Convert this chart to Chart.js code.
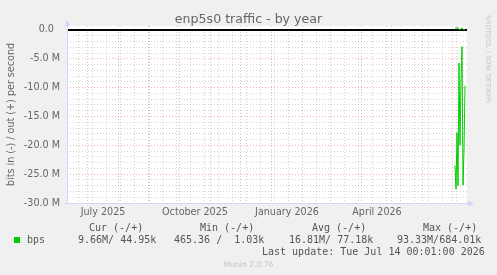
<!DOCTYPE html>
<html><head><meta charset="utf-8">
<style>html,body{margin:0;padding:0;background:#F0F0F0;overflow:hidden}canvas{display:block}</style>
<script src="https://cdn.jsdelivr.net/npm/chart.js@4/dist/chart.umd.min.js"></script>
</head><body>
<canvas id="c" width="497" height="275"></canvas>
<script>
const chartTitle = 'enp5s0 traffic - by year';
const yAxisTitle = 'bits in (-) / out (+) per second';
// x values are days counted from 2025-06-11 (left edge of the year graph)
const dataDays = [388, 389, 390, 391, 392, 393, 394, 395, 396, 397, 398];
const inValues = [-23.5, -27.6, -17.8, -27.0, -5.7, -20.0, -9.1, -2.9, -26.9, -21.0, -9.66]; // Mbit/s, drawn negative
const outValues = [0.30, 0.40, 0.28, 0.45, 0.05, 0.03, 0.25, 0.35, 0.10, 0.04, 0.045];   // Mbit/s
const monthStartDays = [20, 51, 82, 112, 143, 173, 204, 235, 263, 294, 324, 355, 385];
const minorGridDays = [11, 25, 39, 53, 67, 81, 95, 109, 123, 137, 151, 165, 179, 193, 207, 221, 249, 277, 291, 305, 319, 333, 347, 361, 375, 389];
const xLabelDays = [36, 128, 220, 310];
const xLabels = ['July 2025', 'October 2025', 'January 2026', 'April 2026'];
const yTickValues = [-30,-29,-28,-27,-26,-25,-24,-23,-22,-21,-20,-19,-18,-17,-16,-15,-14,-13,-12,-11,-10,-9,-8,-7,-6,-5,-4,-3,-2,-1,0];
const legendHeaders = ['Cur (-/+)', 'Min (-/+)', 'Avg (-/+)', 'Max (-/+)'];
const legendValues = ['9.66M/ 44.95k', '465.36 /  1.03k', '16.81M/ 77.18k', '93.33M/684.01k'];
const seriesName = 'bps';
const lastUpdate = 'Last update: Tue Jul 14 00:01:00 2026';
const footerText = 'Munin 2.0.76';
const watermarkText = 'RRDTOOL / TOBI OETIKER';

const monthSet = new Set(monthStartDays);
const minorSet = new Set(minorGridDays);
const labelMap = {};
xLabelDays.forEach((d, i) => labelMap[d] = xLabels[i]);
const allXTicks = Array.from(new Set([...minorGridDays, ...monthStartDays, ...xLabelDays])).sort((a, b) => a - b);

const MAJOR = 'rgba(222,79,79,0.42)';
const MINOR = 'rgba(143,143,143,0.38)';
const AXIS = '#CFD6F8';
const FONT_COLOR = '#666666';
const GREEN = '#00CC00';

const decor = {
  id: 'decor',
  beforeDraw(chart) {
    const {ctx, chartArea: a} = chart;
    ctx.save();
    ctx.fillStyle = '#F0F0F0';
    ctx.fillRect(0, 0, chart.width, chart.height);
    ctx.fillStyle = '#FFFFFF';
    ctx.fillRect(a.left, a.top, a.right - a.left, a.bottom - a.top);
    ctx.restore();
  },
  afterDraw(chart) {
    const {ctx, chartArea: a} = chart;
    ctx.save();
    // axes with arrows
    ctx.strokeStyle = AXIS; ctx.fillStyle = AXIS; ctx.lineWidth = 1;
    const lx = a.left + 0.5, by = a.bottom + 0.5;
    ctx.beginPath(); ctx.moveTo(lx, by); ctx.lineTo(lx, a.top - 3); ctx.stroke();
    ctx.beginPath(); ctx.moveTo(lx, a.top - 6); ctx.lineTo(lx - 3, a.top); ctx.lineTo(lx + 3, a.top); ctx.closePath(); ctx.fill();
    ctx.beginPath(); ctx.moveTo(a.left - 3, by); ctx.lineTo(a.right + 3, by); ctx.stroke();
    ctx.beginPath(); ctx.moveTo(a.right + 7, by); ctx.lineTo(a.right + 1, by - 3); ctx.lineTo(a.right + 1, by + 3); ctx.closePath(); ctx.fill();

    // title
    ctx.fillStyle = FONT_COLOR;
    ctx.font = '12.6px "DejaVu Sans"';
    ctx.textAlign = 'center'; ctx.textBaseline = 'alphabetic';
    ctx.fillText(chartTitle, chart.width / 2, 23);

    // watermark
    ctx.save();
    ctx.translate(488, 15);
    ctx.rotate(Math.PI / 2);
    ctx.font = '6.8px "DejaVu Sans"';
    ctx.fillStyle = '#C4C4C4';
    ctx.textAlign = 'left'; ctx.textBaseline = 'middle';
    ctx.fillText(watermarkText, 0, 0);
    ctx.restore();

    // legend
    ctx.font = '10px "DejaVu Sans Mono"';
    ctx.fillStyle = '#555555';
    ctx.textAlign = 'left'; ctx.textBaseline = 'middle';
    const hx = [89, 200, 312, 423];
    const vx = [78, 174, 289, 397];
    legendHeaders.forEach((t, i) => ctx.fillText(t, hx[i], 228));
    legendValues.forEach((t, i) => ctx.fillText(t, vx[i], 240));
    ctx.fillText(seriesName, 27, 240);
    ctx.fillText(lastUpdate, 262, 252);
    ctx.fillStyle = GREEN;
    ctx.fillRect(14, 237, 6, 6);

    // footer
    ctx.font = '7.6px "DejaVu Sans"';
    ctx.fillStyle = '#C4C4C4';
    ctx.textAlign = 'center';
    ctx.fillText(footerText, chart.width / 2, 265);
    ctx.restore();
  }
};

new Chart(document.getElementById('c'), {
  type: 'line',
  data: {
    datasets: [
      {label: 'in', data: dataDays.map((d, i) => ({x: d, y: inValues[i]})), borderColor: GREEN, borderWidth: 1, pointRadius: 0, tension: 0},
      {label: 'out', data: dataDays.map((d, i) => ({x: d, y: outValues[i]})), borderColor: GREEN, borderWidth: 1, pointRadius: 0, tension: 0},
      {label: 'zero', data: [{x: 0, y: 0}, {x: 400, y: 0}], borderColor: '#000000', borderWidth: 2, pointRadius: 0}
    ]
  },
  options: {
    responsive: false, animation: false, devicePixelRatio: 1,
    layout: {padding: {top: 26, right: 30, bottom: 52, left: 0}},
    plugins: {legend: {display: false}, tooltip: {enabled: false}, title: {display: false}},
    scales: {
      x: {
        type: 'linear', min: 0, max: 400,
        afterBuildTicks: s => { s.ticks = allXTicks.map(v => ({value: v})); },
        afterFit: s => { s.height = 20; },
        grid: {
          drawTicks: false, lineWidth: 1,
          color: c => { const v = c.tick && c.tick.value; if (monthSet.has(v)) return MAJOR; if (minorSet.has(v)) return MINOR; return 'rgba(0,0,0,0)'; }
        },
        border: {display: false, dash: [1, 2]},
        ticks: {autoSkip: false, maxRotation: 0, minRotation: 0, padding: 4, color: FONT_COLOR, font: {family: 'DejaVu Sans', size: 9.6}, callback: v => labelMap[v] || ''}
      },
      y: {
        type: 'linear', min: -30, max: 0.69,
        afterBuildTicks: s => { s.ticks = yTickValues.map(v => ({value: v})); },
        afterFit: s => { s.width = 67; },
        title: {display: true, text: yAxisTitle, color: FONT_COLOR, font: {family: 'DejaVu Sans', size: 9.6}, padding: {top: 6, bottom: 0}},
        grid: {
          drawTicks: false, lineWidth: 1,
          color: c => { const v = c.tick && c.tick.value; if (v === 0) return 'rgba(0,0,0,0)'; return (v % 5 === 0) ? MAJOR : MINOR; }
        },
        border: {display: false, dash: [1, 2]},
        ticks: {autoSkip: false, padding: 7, color: FONT_COLOR, font: {family: 'DejaVu Sans', size: 9.6},
          callback: v => (v % 5 === 0) ? (v === 0 ? '0.0  ' : v.toFixed(1) + ' M') : ''}
      }
    }
  },
  plugins: [decor]
});
</script>
</body></html>
